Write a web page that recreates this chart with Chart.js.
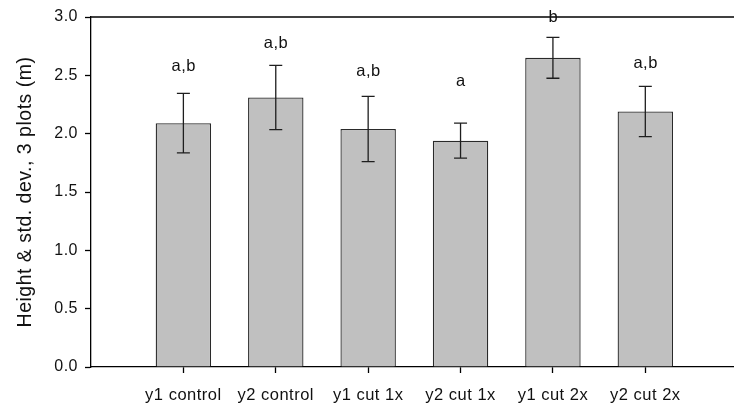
<!DOCTYPE html>
<html>
<head>
<meta charset="utf-8">
<script src="https://cdn.jsdelivr.net/npm/chart.js@4.4.1/dist/chart.umd.min.js"></script>
<style>
  html, body { margin: 0; padding: 0; background: #fff; overflow: hidden; }
  #wrap { width: 734px; height: 404px; position: relative; }
</style>
</head>
<body>
<div id="wrap"><canvas id="c"></canvas></div>
<script>
// Treatment groups and their measured heights
const categories = ['y1 control', 'y2 control', 'y1 cut 1x', 'y2 cut 1x', 'y1 cut 2x', 'y2 cut 2x'];
const meanHeight = [2.09, 2.31, 2.04, 1.94, 2.65, 2.19];
const stdDev = [0.255, 0.275, 0.28, 0.15, 0.175, 0.215];
// Significance groupings and the height (m) at which each is written
const groupLetters = ['a,b', 'a,b', 'a,b', 'a', 'b', 'a,b'];
const letterHeight = [2.58, 2.77, 2.53, 2.45, 3.0, 2.6];
const yTicks = [0, 0.5, 1.0, 1.5, 2.0, 2.5, 3.0];

const FONT = "'Liberation Sans', Arial, Helvetica, sans-serif";
const TRACKING = '0.5px';

const points = categories.map((c, i) => ({ x: i + 1, y: meanHeight[i] }));

// Slightly wider letter spacing for all text on the canvas
const tracking = {
  id: 'tracking',
  beforeUpdate(chart) { chart.ctx.letterSpacing = TRACKING; },
  beforeLayout(chart) { chart.ctx.letterSpacing = TRACKING; },
  beforeDraw(chart) { chart.ctx.letterSpacing = TRACKING; }
};

// Error bars with caps, mean ± sd
const errorBars = {
  id: 'errorBars',
  afterDatasetsDraw(chart) {
    const { ctx, scales: { x, y } } = chart;
    ctx.save();
    ctx.strokeStyle = '#1e1e1e';
    ctx.lineWidth = 1.3;
    const cap = 6.5;
    meanHeight.forEach((m, i) => {
      const px = x.getPixelForValue(i + 1);
      const top = y.getPixelForValue(m + stdDev[i]);
      const bot = y.getPixelForValue(m - stdDev[i]);
      ctx.beginPath();
      ctx.moveTo(px, top); ctx.lineTo(px, bot);
      ctx.moveTo(px - cap, top); ctx.lineTo(px + cap, top);
      ctx.moveTo(px - cap, bot); ctx.lineTo(px + cap, bot);
      ctx.stroke();
    });
    ctx.restore();
  }
};

// Group letters above bars and the frame line along the top
const annotations = {
  id: 'annotations',
  afterDraw(chart) {
    const { ctx, chartArea, scales: { x, y } } = chart;
    ctx.save();
    ctx.strokeStyle = '#000';
    ctx.lineWidth = 1.3;
    ctx.beginPath();
    ctx.moveTo(chartArea.left, chartArea.top);
    ctx.lineTo(chartArea.right, chartArea.top);
    ctx.stroke();
    ctx.fillStyle = '#111';
    ctx.letterSpacing = TRACKING;
    ctx.font = '16.5px ' + FONT;
    ctx.textAlign = 'center';
    ctx.textBaseline = 'middle';
    groupLetters.forEach((t, i) => {
      ctx.fillText(t, x.getPixelForValue(i + 1) + 0.3, y.getPixelForValue(letterHeight[i]));
    });
    ctx.restore();
  }
};

new Chart(document.getElementById('c'), {
  type: 'bar',
  data: {
    datasets: [{
      data: points,
      backgroundColor: '#c0c0c0',
      borderColor: '#2a2a2a',
      borderWidth: 1.3,
      barPercentage: 0.6,
      categoryPercentage: 1.0
    }]
  },
  options: {
    responsive: true,
    maintainAspectRatio: false,
    animation: false,
    layout: { padding: { top: 17, right: 0, left: 0, bottom: 0 } },
    plugins: { legend: { display: false }, tooltip: { enabled: false } },
    scales: {
      x: {
        type: 'linear',
        min: 0,
        max: 6.96,
        offset: false,
        afterBuildTicks(scale) {
          scale.ticks = categories.map((c, i) => ({ value: i + 1 }));
        },
        afterFit(scale) { scale.height = 37; },
        ticks: {
          autoSkip: false,
          maxRotation: 0,
          padding: 13,
          color: '#111',
          font: { family: FONT, size: 16.5 },
          callback: (v) => categories[Math.round(v) - 1]
        },
        grid: {
          offset: false,
          drawOnChartArea: false,
          drawTicks: true,
          tickLength: 6,
          tickColor: '#000',
          tickWidth: 1.3
        },
        border: { display: true, color: '#000', width: 1.3 }
      },
      y: {
        min: 0,
        max: 3,
        afterBuildTicks(scale) {
          scale.ticks = yTicks.map(v => ({ value: v }));
        },
        afterFit(scale) { scale.width = 91; },
        ticks: {
          padding: 7,
          color: '#111',
          font: { family: FONT, size: 16 },
          callback: (v) => Number(v).toFixed(1)
        },
        grid: {
          drawOnChartArea: false,
          drawTicks: true,
          tickLength: 6,
          tickColor: '#000',
          tickWidth: 1.3
        },
        border: { display: true, color: '#000', width: 1.3 },
        title: {
          display: true,
          text: 'Height & std. dev., 3 plots (m)',
          color: '#111',
          font: { family: FONT, size: 19.5 },
          padding: { top: 14, bottom: 0 }
        }
      }
    }
  },
  plugins: [tracking, errorBars, annotations]
});
</script>
</body>
</html>
